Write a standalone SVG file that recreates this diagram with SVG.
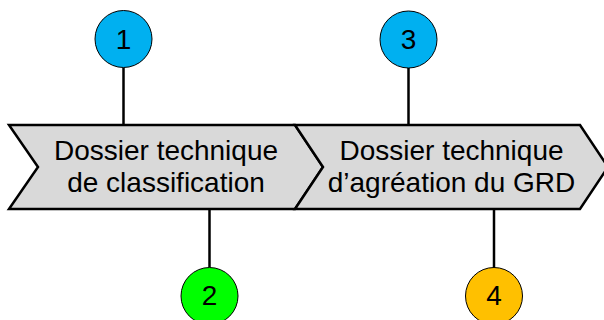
<svg xmlns="http://www.w3.org/2000/svg" width="604" height="320" viewBox="0 0 604 320">
<style>
.chev{fill:#d9d9d9;stroke:#000;stroke-width:2.5;stroke-linejoin:miter}
.lbl{font-family:"Liberation Sans",Arial,sans-serif;font-size:28px;fill:#000;text-anchor:middle}
.circ{stroke:#000;stroke-width:1}
.conn{stroke:#000;stroke-width:2.5;fill:none}
</style>
<rect width="604" height="320" fill="#fff"/>
<g id="connectors">
<line class="conn" x1="123.5" y1="67.5" x2="123.5" y2="125"/>
<line class="conn" x1="209.5" y1="209" x2="209.5" y2="267.5"/>
<line class="conn" x1="408.5" y1="67.5" x2="408.5" y2="125"/>
<line class="conn" x1="494" y1="209" x2="494" y2="267.5"/>
</g>
<g id="chevron1">
<polygon class="chev" points="9,125 295,125 323,167 295,209 9,209 38,167"/>
<text class="lbl" x="166" y="160">Dossier technique</text>
<text class="lbl" x="166" y="192">de classification</text>
</g>
<g id="chevron2">
<polygon class="chev" points="295,125 580,125 608,167 580,209 295,209 323,167"/>
<text class="lbl" x="451.5" y="160">Dossier technique</text>
<text class="lbl" x="451.5" y="192">d’agréation du GRD</text>
</g>
<g id="marker1">
<circle class="circ" cx="123.5" cy="39" r="28.5" fill="#00b0f0"/>
<text class="lbl" x="123.5" y="48.5" font-size="27">1</text>
</g>
<g id="marker2">
<circle class="circ" cx="209.5" cy="296" r="28.5" fill="#00ff00"/>
<text class="lbl" x="209.5" y="304.5" font-size="27">2</text>
</g>
<g id="marker3">
<circle class="circ" cx="408.5" cy="39.5" r="28.5" fill="#00b0f0"/>
<text class="lbl" x="408.5" y="49" font-size="27">3</text>
</g>
<g id="marker4">
<circle class="circ" cx="494" cy="296" r="28.5" fill="#ffc000"/>
<text class="lbl" x="494" y="304.5" font-size="27">4</text>
</g>
</svg>
